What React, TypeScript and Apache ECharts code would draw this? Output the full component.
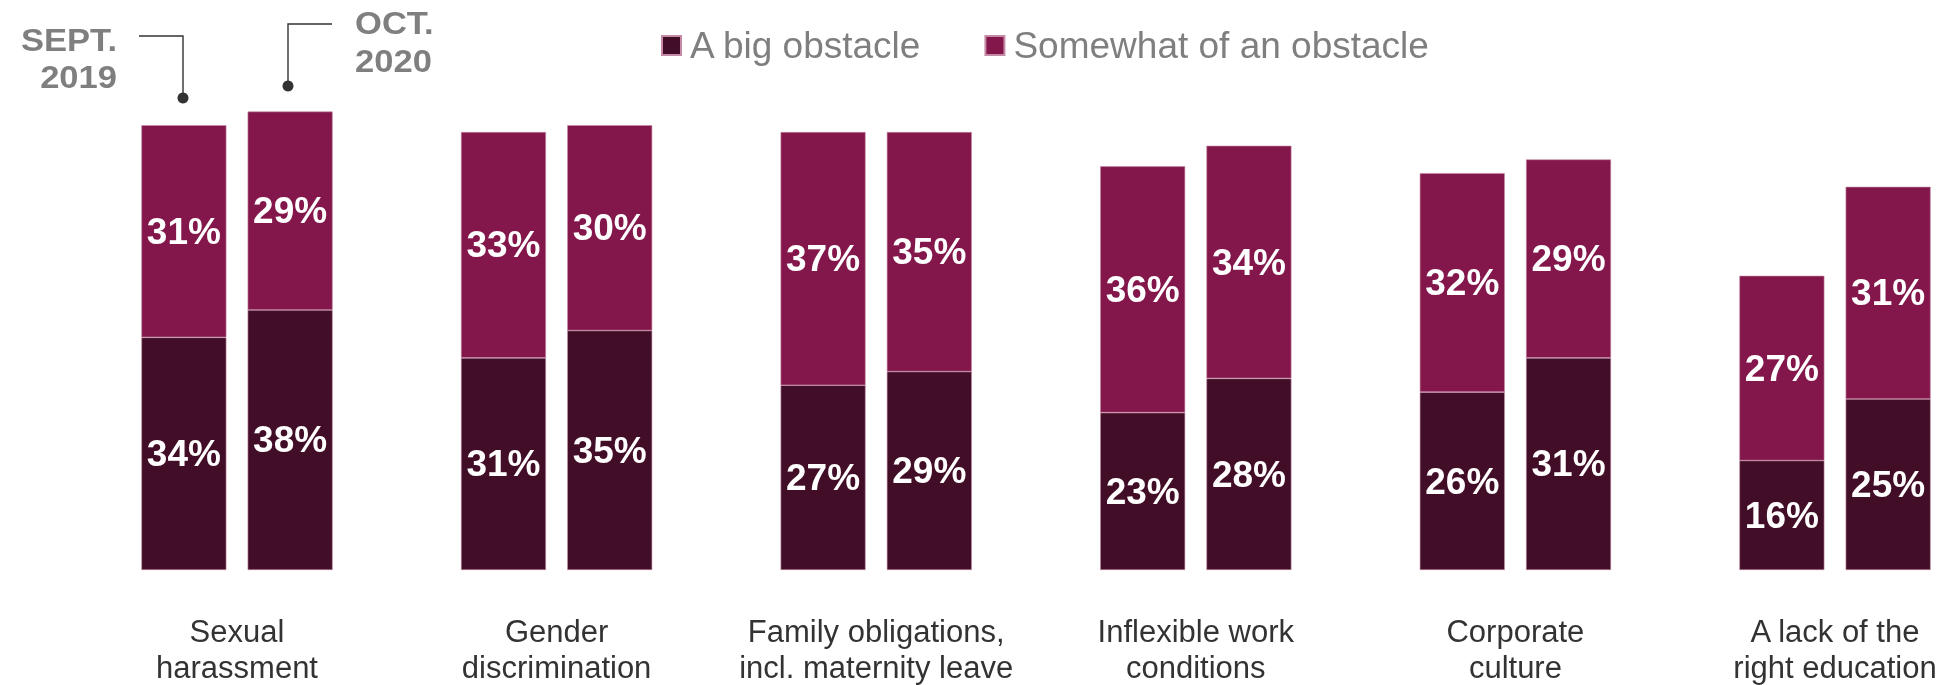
import React, { useEffect, useRef } from "react";
import * as echarts from "echarts";

const categories = [
  "Sexual\nharassment",
  "Gender\ndiscrimination",
  "Family obligations,\nincl. maternity leave",
  "Inflexible work\nconditions",
  "Corporate\nculture",
  "A lack of the\nright education",
];
const big2019 = [34, 31, 27, 23, 26, 16];
const some2019 = [31, 33, 37, 36, 32, 27];
const big2020 = [38, 35, 29, 28, 31, 25];
const some2020 = [29, 30, 35, 34, 29, 31];
const seriesNames = ["A big obstacle", "Somewhat of an obstacle"];
const yearLabels2019 = ["SEPT.", "2019"];
const yearLabels2020 = ["OCT.", "2020"];

const DARK = "#420D27";
const MAGENTA = "#83174B";
const FONT = "'Liberation Sans', Arial, sans-serif";

export default function App() {
  const ref = useRef<HTMLDivElement>(null);
  useEffect(() => {
    if (!ref.current) return;
    const chart = echarts.init(ref.current, null, { renderer: "svg" });
    const label = {
      show: true,
      position: "inside",
      color: "#ffffff",
      fontWeight: "bold",
      fontSize: 37,
      fontFamily: FONT,
      formatter: "{c}%",
    };
    const mk = (name: string, stack: string, data: number[], color: string) => ({
      name,
      type: "bar",
      stack,
      data,
      barWidth: 85,
      barGap: "25%",
      itemStyle: { color, borderColor: "#c48aa6", borderWidth: 0.6 },
      label,
    });
    const annText = (text: string, x: number, y: number, align: string) => ({
      type: "text",
      x,
      y,
      scaleX: 1.08,
      style: {
        text,
        fill: "#7f7f7f",
        font: `bold 32px ${FONT}`,
        align,
        verticalAlign: "middle",
      },
    });
    chart.setOption({
      animation: false,
      textStyle: { fontFamily: FONT },
      grid: { left: 237, right: 116, top: 91, bottom: 114 },
      legend: {
        data: seriesNames,
        left: 661,
        top: 27,
        padding: 0,
        icon: "rect",
        itemWidth: 19,
        itemHeight: 19,
        itemGap: 62,
        textStyle: {
          color: "#7f7f7f",
          fontSize: 37,
          fontFamily: FONT,
          padding: [0, 0, 0, 4],
        },
      },
      xAxis: {
        type: "category",
        data: categories,
        boundaryGap: false,
        axisLine: { show: false },
        axisTick: { show: false },
        axisLabel: {
          color: "#333333",
          fontSize: 31,
          lineHeight: 36,
          margin: 43,
          fontFamily: FONT,
          interval: 0,
        },
      },
      yAxis: {
        type: "value",
        min: 0,
        max: 70,
        show: false,
        splitLine: { show: false },
      },
      series: [
        mk(seriesNames[0], "2019", big2019, DARK),
        mk(seriesNames[1], "2019", some2019, MAGENTA),
        mk(seriesNames[0], "2020", big2020, DARK),
        mk(seriesNames[1], "2020", some2020, MAGENTA),
      ],
      graphic: [
        annText(yearLabels2019[0], 117, 40, "right"),
        annText(yearLabels2019[1], 117, 77, "right"),
        annText(yearLabels2020[0], 355, 23, "left"),
        annText(yearLabels2020[1], 355, 61, "left"),
        {
          type: "polyline",
          shape: { points: [[139, 36], [183, 36], [183, 97]] },
          style: { stroke: "#333333", lineWidth: 1.4, fill: null },
        },
        { type: "circle", shape: { cx: 183, cy: 98, r: 5.5 }, style: { fill: "#333333" } },
        {
          type: "polyline",
          shape: { points: [[332, 24], [288, 24], [288, 85]] },
          style: { stroke: "#333333", lineWidth: 1.4, fill: null },
        },
        { type: "circle", shape: { cx: 288, cy: 86, r: 5.5 }, style: { fill: "#333333" } },
      ],
    });
    return () => chart.dispose();
  }, []);
  return (
    <div
      ref={ref}
      style={{ position: "fixed", left: 0, top: 0, width: 1951, height: 685 }}
    />
  );
}
